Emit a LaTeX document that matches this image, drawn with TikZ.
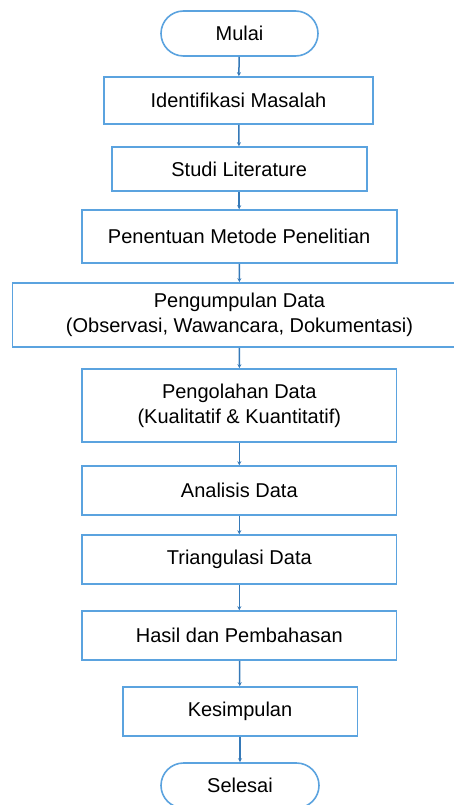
\documentclass[tikz,border=0pt]{standalone}
\usepackage{fontspec}
\setmainfont{Liberation Sans}
\usetikzlibrary{arrows.meta}
\definecolor{boxblue}{HTML}{5BA3DF}
\definecolor{linkblue}{HTML}{3579B8}
\tikzset{
  stepbox/.style={draw=boxblue, line width=1.6pt, fill=white, inner sep=0pt,
    font=\fontsize{20}{25}\selectfont, align=center},
  termbox/.style={stepbox, rounded corners=22.5pt},
  link/.style={draw=linkblue, line width=1.5pt, -{Stealth[length=4pt,width=4pt]}},
}
\begin{document}
\begin{tikzpicture}[x=1pt,y=-1pt]
\clip (0,0) rectangle (454,805);
\fill[white] (0,0) rectangle (454,805);
\node[termbox, minimum width=157pt, minimum height=45pt] (mulai) at (239.5,33.5) {Mulai};
\node[stepbox, minimum width=268.7pt, minimum height=47pt] (idm) at (238.5,100.5) {Identifikasi Masalah};
\node[stepbox, minimum width=255pt, minimum height=44pt] (studi) at (239.2,169) {Studi Literature};
\node[stepbox, minimum width=315pt, minimum height=53pt] (metode) at (239.2,236.5) {Penentuan Metode Penelitian};
\node[stepbox, minimum width=454.4pt, minimum height=64pt] (kumpul) at (239.5,315) {Pengumpulan Data\\(Observasi, Wawancara, Dokumentasi)};
\node[stepbox, minimum width=314.7pt, minimum height=73pt] (olah) at (239.3,405.5) {Pengolahan Data\\(Kualitatif \& Kuantitatif)};
\node[stepbox, minimum width=314.7pt, minimum height=49pt] (analisis) at (239.3,490.5) {Analisis Data};
\node[stepbox, minimum width=314.7pt, minimum height=49pt] (triang) at (239.3,559.5) {Triangulasi Data};
\node[stepbox, minimum width=314.7pt, minimum height=49pt] (hasil) at (239.3,635.5) {Hasil dan Pembahasan};
\node[stepbox, minimum width=234.6pt, minimum height=49pt] (simpul) at (240,711.5) {Kesimpulan};
\node[termbox, minimum width=158pt, minimum height=45pt] (selesai) at (240,785.5) {Selesai};
\draw[link] (mulai) -- (idm);
\draw[link] (idm) -- (studi);
\draw[link] (studi) -- (metode);
\draw[link] (metode) -- (kumpul);
\draw[link] (kumpul) -- (olah);
\draw[link] (olah) -- (analisis);
\draw[link] (analisis) -- (triang);
\draw[link] (triang) -- (hasil);
\draw[link] (hasil) -- (simpul);
\draw[link] (simpul) -- (selesai);
\end{tikzpicture}
\end{document}
